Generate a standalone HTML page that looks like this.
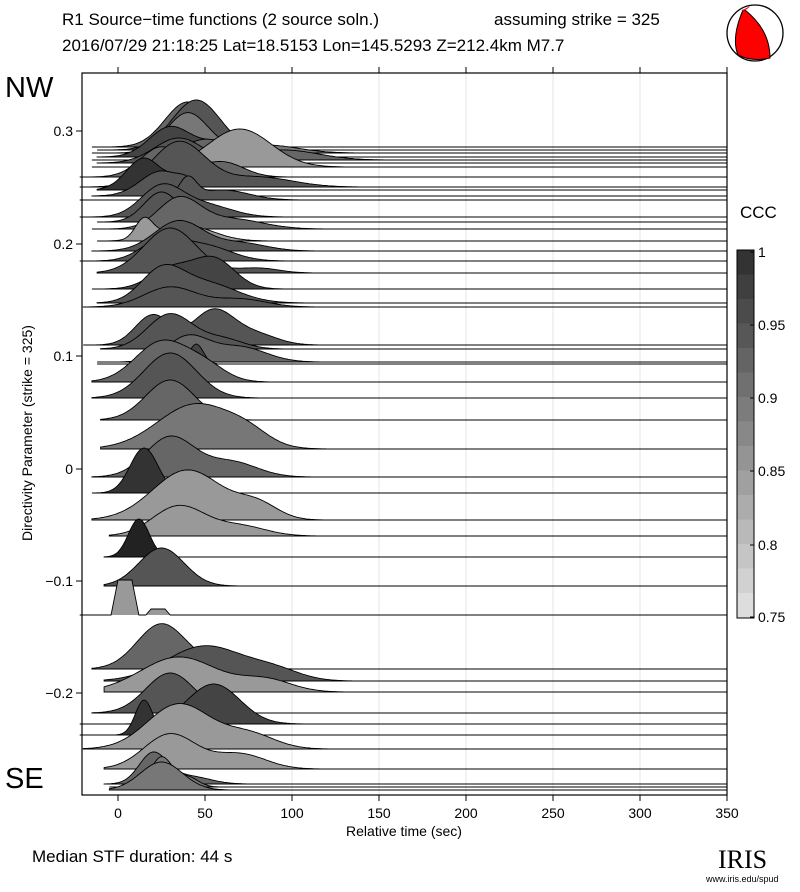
<!DOCTYPE html>
<html><head><meta charset="utf-8"><style>
body{margin:0;background:#fff;width:800px;height:887px;overflow:hidden;font-family:"Liberation Sans",sans-serif}
</style></head><body>
<svg id="s" width="800" height="887" xmlns="http://www.w3.org/2000/svg" font-family="Liberation Sans, sans-serif">
<rect width="800" height="887" fill="#fff"/>
<text x="62" y="25" font-size="17">R1 Source−time functions (2 source soln.)</text>
<text x="494" y="25" font-size="17">assuming strike = 325</text>
<text x="62" y="51" font-size="17">2016/07/29 21:18:25  Lat=18.5153 Lon=145.5293  Z=212.4km   M7.7</text>
<circle cx="755" cy="33" r="28" fill="#fff" stroke="#000" stroke-width="1.3"/>
<path d="M743,10 Q731,38 738,55 Q752,62 770,58 Q770,30 745,10 Z" fill="red" stroke="#000"/>
<path d="M741,11 L750,6 Q748,9 745,10 Z" fill="red"/>
<text x="5" y="97" font-size="29">NW</text>
<text x="5" y="788" font-size="29">SE</text>
<g id="grid" stroke="#e6e6e6" stroke-width="1"></g>
<g id="traces"></g>
<rect x="82" y="73" width="645" height="722" fill="none" stroke="#000" stroke-width="1.2"/>
<g id="ax" font-size="14"></g>
<text x="404" y="836" font-size="14" text-anchor="middle">Relative time (sec)</text>
<text transform="translate(32,433) rotate(-90)" font-size="14" text-anchor="middle">Directivity Parameter (strike = 325)</text>
<text x="740" y="218" font-size="17">CCC</text>
<g id="cb"></g>
<text x="32" y="862" font-size="17">Median STF duration: 44 s</text>
<text x="718" y="868" font-size="26" font-family="Liberation Serif, serif">IRIS</text>
<text x="706" y="882" font-size="9">www.iris.edu/spud</text>
</svg>
<script>
const NS="http://www.w3.org/2000/svg";
function el(p,t,a,txt){const e=document.createElementNS(NS,t);for(const k in a)e.setAttribute(k,a[k]);if(txt!==undefined)e.textContent=txt;document.getElementById(p).appendChild(e);return e;}
const X=s=>118+s*1.74;
for(let v=100;v<=300;v+=50)el('grid','line',{x1:X(v),x2:X(v),y1:73,y2:795});
[0,50,100,150,200,250,300,350].forEach(v=>{el('ax','line',{x1:X(v),x2:X(v),y1:795,y2:801,stroke:'#000'});el('ax','line',{x1:X(v),x2:X(v),y1:73,y2:67,stroke:'#000'});el('ax','text',{x:X(v),y:818,'text-anchor':'middle'},String(v));});
[[0.3,131],[0.2,244],[0.1,356],[0,469],[-0.1,581],[-0.2,693]].forEach(([v,y])=>{el('ax','line',{x1:76,x2:82,y1:y,y2:y,stroke:'#000'});el('ax','text',{x:73,y:y+5,'text-anchor':'end'},(v<0?'−':'')+Math.abs(v).toString());});
const T=[
[147,-15,'#666',[[40,13,45]]],
[150,-12,'#555',[[45,14,50]]],
[153,-15,'#777',[[40,12,40],[85,18,8]]],
[157,-12,'#444',[[30,12,30],[60,12,15]]],
[160,-15,'#666',[[50,14,20],[95,20,10]]],
[163,-12,'#555',[[35,14,25]]],
[167,-15,'#999',[[70,18,38]]],
[177,-22,'#666',[[25,12,30],[60,12,15]]],
[187,-22,'#555',[[35,15,45],[80,20,10]]],
[190,-12,'#333',[[15,10,32],[35,6,10]]],
[196,-15,'#555',[[25,12,25],[40,5,8]]],
[200,-22,'#555',[[40,5,20],[60,15,10]]],
[217,-22,'#555',[[25,12,30],[50,15,12]]],
[222,-12,'#555',[[25,10,30]]],
[229,-15,'#666',[[35,12,30],[65,18,10]]],
[241,-12,'#999',[[15,5,20],[40,15,15]]],
[251,-15,'#555',[[35,14,30],[70,15,8]]],
[261,-22,'#555',[[25,12,20],[50,15,15]]],
[273,-12,'#555',[[30,15,45],[80,12,5]]],
[289,-15,'#444',[[30,12,20],[55,12,30]]],
[303,-12,'#555',[[25,12,30],[50,18,20]]],
[307,-20,'#555',[[30,15,20],[70,15,8]]],
[345,-20,'#555',[[20,10,30],[55,12,35],[80,12,10]]],
[349,-10,'#555',[[30,13,35],[60,12,10]]],
[362,-12,'#666',[[40,12,25],[70,15,15]]],
[364,-12,'#444',[[45,4,20]]],
[382,-15,'#666',[[25,15,40],[50,12,15]]],
[398,-15,'#555',[[30,15,45]]],
[420,-10,'#666',[[30,14,40]]],
[449,-10,'#777',[[45,22,45],[75,12,10]]],
[477,-15,'#666',[[30,14,40],[65,15,15]]],
[493,-15,'#333',[[15,8,45]]],
[520,-15,'#999',[[40,20,50],[80,12,15]]],
[536,-5,'#999',[[35,15,30],[70,15,10]]],
[557,-8,'#222',[[12,6,38]]],
[586,-8,'#555',[[25,13,38]]],
];
function draw(list){list.forEach(([b,s,c,bm])=>{
 let d=`M${X(s)},${b}`;
 for(let t=s;t<=202;t+=1){let h=0;bm.forEach(([m,sg,a])=>{h+=a*Math.exp(-((t-m)**2)/(2*sg*sg));});d+=` L${X(t).toFixed(1)},${(b-h).toFixed(1)}`;}
 d+=` L727,${b} L${X(s)},${b} Z`;
 el('traces','path',{d:d,fill:c,stroke:'#000','stroke-width':0.9});
});}
draw(T);
el('traces','path',{d:`M${X(-22)},615 L${X(-4)},615 L${X(0)},580 L${X(8)},580 L${X(12)},615 L${X(16)},615 L${X(19)},609 L${X(27)},609 L${X(30)},615 L727,615`,fill:'#999',stroke:'#000','stroke-width':0.9});
const B=[
[669,-15,'#666',[[25,14,45],[60,15,5]]],
[681,-8,'#555',[[50,22,35],[90,15,10]]],
[692,-8,'#999',[[35,22,35],[85,15,12]]],
[713,-15,'#555',[[30,14,40]]],
[724,-22,'#444',[[55,15,40]]],
[735,-22,'#333',[[15,5,35]]],
[749,-20,'#999',[[35,18,45],[75,15,15]]],
[769,-8,'#999',[[30,15,35],[70,15,15]]],
[784,-8,'#666',[[20,8,30],[40,12,8]]],
[787,-5,'#777',[[25,6,30],[40,6,10]]],
[790,-5,'#777',[[25,12,28]]],
];
draw(B);
for(let i=0;i<15;i++){const g=Math.round(0x33+(0xdd-0x33)*i/14);const col=`rgb(${g},${g},${g})`;el('cb','rect',{x:737,y:250+i*24.5,width:17,height:25,fill:col});}
el('cb','rect',{x:737,y:250,width:17,height:368,fill:'none',stroke:'#000'});
[[1,252],[0.95,325],[0.9,398],[0.85,471],[0.8,545],[0.75,617]].forEach(([v,y])=>{el('cb','text',{x:758,y:y+5,'font-size':14},String(v));el('cb','line',{x1:754,x2:750,y1:y,y2:y,stroke:'#000'});});
</script>
</body></html>
